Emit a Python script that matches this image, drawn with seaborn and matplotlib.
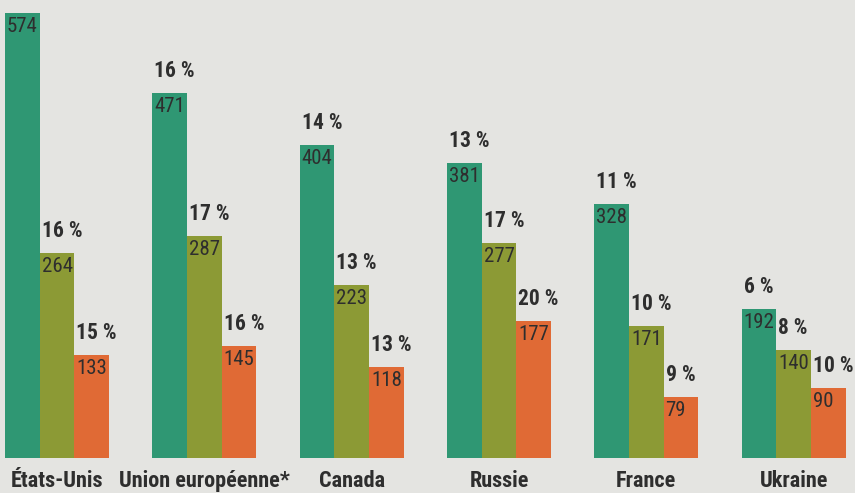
import pandas as pd
import numpy as np
import seaborn as sns
import matplotlib.pyplot as plt

# data
pays = ['États-Unis', 'Union européenne*', 'Canada', 'Russie', 'France', 'Ukraine']
serie_1 = [574, 471, 404, 381, 328, 192]
serie_2 = [264, 287, 223, 277, 171, 140]
serie_3 = [133, 145, 118, 177, 79, 90]
pct_1 = [None, '16 %', '14 %', '13 %', '11 %', '6 %']
pct_2 = ['16 %', '17 %', '13 %', '17 %', '10 %', '8 %']
pct_3 = ['15 %', '16 %', '13 %', '20 %', '9 %', '10 %']

series = ['s1', 's2', 's3']
colors = ['#2f9773', '#8c9a35', '#e06a35']

df = pd.DataFrame({
    'pays': pays * 3,
    'serie': np.repeat(series, len(pays)),
    'valeur': serie_1 + serie_2 + serie_3,
})

sns.set_style('white')
plt.rcParams['font.family'] = ['Roboto Condensed', 'DejaVu Sans Condensed', 'Roboto', 'DejaVu Sans']
bg = '#e4e4e1'

fig = plt.figure(figsize=(8.55, 4.93), dpi=100, facecolor=bg)
ax = fig.add_axes([0, 0, 1, 1])
ax.set_facecolor(bg)

sns.barplot(data=df, x='pays', y='valeur', hue='serie', palette=colors,
            width=0.706, saturation=1, ax=ax, legend=False, linewidth=0)

ax.set_xlim(-0.387, 5.417)
ax.set_ylim(-45, 591)
ax.axis('off')

text_col = '#2e2e2e'
pcts = [pct_1, pct_2, pct_3]
for cont, pct in zip(ax.containers, pcts):
    for bar, p in zip(cont, pct):
        x0 = bar.get_x()
        h = bar.get_height()
        ax.annotate(f'{int(h)}', xy=(x0, h), xytext=(2, -4), textcoords='offset pixels',
                    ha='left', va='top', fontsize=15, color=text_col)
        if p:
            ax.annotate(p, xy=(x0, h), xytext=(2, 11), textcoords='offset pixels',
                        ha='left', va='bottom', fontsize=15.5, fontweight='bold', color=text_col)

for i, name in enumerate(pays):
    ax.text(i, -37.5, name, ha='center', va='baseline', fontsize=16,
            fontweight='bold', color=text_col)

fig.savefig('out.png', dpi=100, facecolor=bg)
